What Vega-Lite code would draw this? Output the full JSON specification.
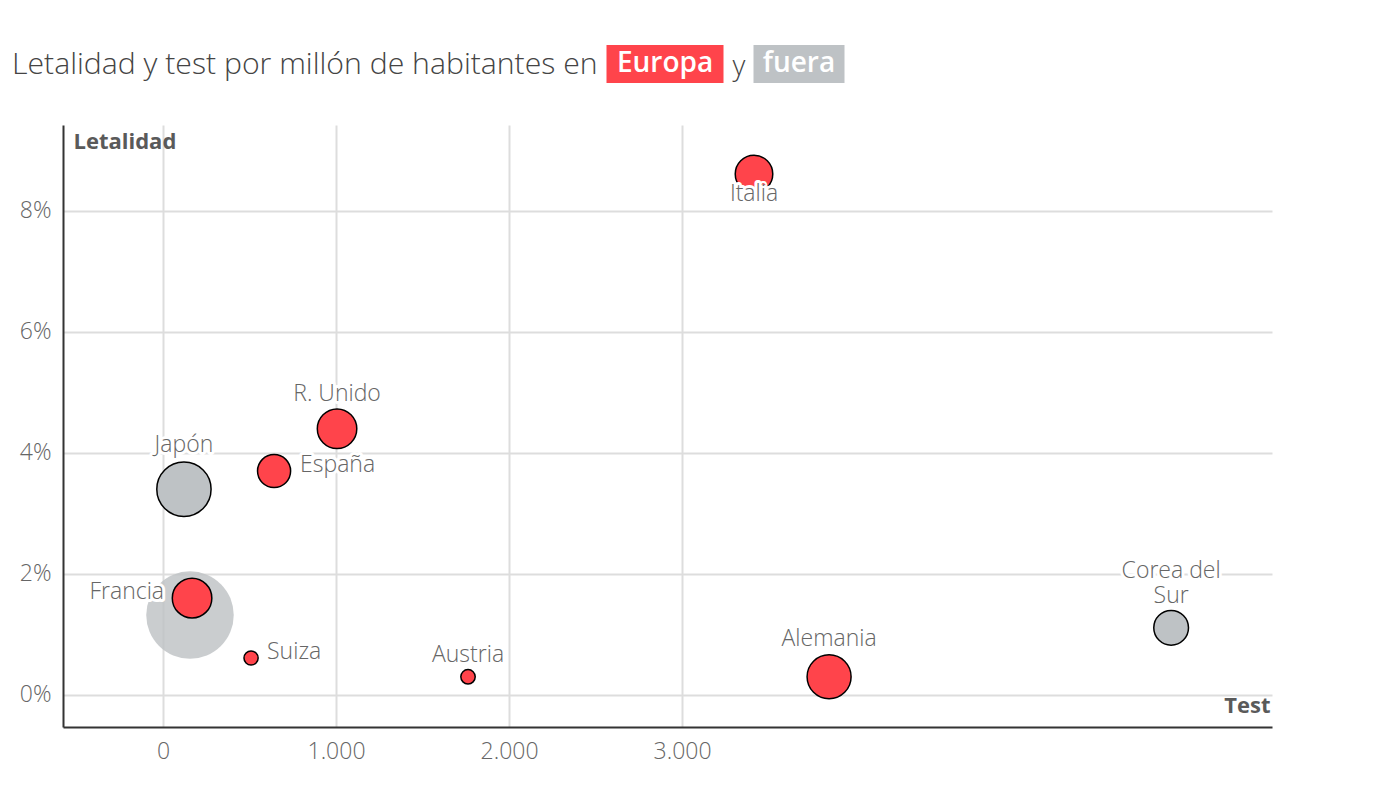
{
  "$schema": "https://vega.github.io/schema/vega-lite/v6.json",
  "autosize": "none",
  "width": 1209,
  "height": 602,
  "padding": {"left": 63, "top": 125, "right": 120, "bottom": 65},
  "background": "#ffffff",
  "title": {
    "text": "Letalidad y test por millón de habitantes en",
    "anchor": "start",
    "frame": "group",
    "dx": -51,
    "offset": -60,
    "baseline": "alphabetic",
    "font": "Open Sans",
    "fontSize": 30.2,
    "fontWeight": 300,
    "color": "#444444"
  },
  "data": {
    "values": [
      {"pais": "Estados Unidos", "region": "fuera", "test": 156, "letalidad": 1.32, "poblacion": 328.2},
      {"pais": "Japón", "region": "fuera", "test": 121, "letalidad": 3.40, "poblacion": 126.3},
      {"pais": "Corea del Sur", "region": "fuera", "test": 5827, "letalidad": 1.11, "poblacion": 51.7},
      {"pais": "Francia", "region": "Europa", "test": 168, "letalidad": 1.60, "poblacion": 67.0},
      {"pais": "España", "region": "Europa", "test": 642, "letalidad": 3.70, "poblacion": 46.9},
      {"pais": "R. Unido", "region": "Europa", "test": 1006, "letalidad": 4.40, "poblacion": 66.8},
      {"pais": "Suiza", "region": "Europa", "test": 509, "letalidad": 0.61, "poblacion": 8.6},
      {"pais": "Austria", "region": "Europa", "test": 1763, "letalidad": 0.30, "poblacion": 8.9},
      {"pais": "Alemania", "region": "Europa", "test": 3850, "letalidad": 0.30, "poblacion": 83.0},
      {"pais": "Italia", "region": "Europa", "test": 3416, "letalidad": 8.61, "poblacion": 60.4}
    ]
  },
  "encoding": {
    "x": {
      "field": "test",
      "type": "quantitative",
      "scale": {"domain": [-578, 6410], "nice": false, "zero": false},
      "axis": {
        "values": [0, 1000, 2000, 3000],
        "labelExpr": "replace(format(datum.value, ','), ',', '.')",
        "title": "Test",
        "titleX": 1207,
        "titleY": -15,
        "titleAlign": "right",
        "titleBaseline": "alphabetic",
        "labelPadding": 13
      }
    },
    "y": {
      "field": "letalidad",
      "type": "quantitative",
      "scale": {"domain": [-0.53, 9.42], "nice": false, "zero": false},
      "axis": {
        "values": [0, 2, 4, 6, 8],
        "labelExpr": "datum.value + '%'",
        "title": "Letalidad",
        "titleAngle": 0,
        "titleX": 10,
        "titleY": 23,
        "titleAlign": "left",
        "titleBaseline": "alphabetic",
        "labelPadding": 12
      }
    }
  },
  "layer": [
    {
      "mark": {"type": "circle", "stroke": "#000000"},
      "encoding": {
        "size": {
          "field": "poblacion",
          "type": "quantitative",
          "scale": {"domain": [0, 330], "range": [0, 7700]},
          "legend": null
        },
        "color": {
          "field": "region",
          "type": "nominal",
          "scale": {"domain": ["Europa", "y", "fuera"], "range": ["#ff444b", "#ffffff", "#bec2c5"]},
          "legend": {
            "orient": "none",
            "legendX": 582,
            "legendY": -81,
            "direction": "horizontal",
            "columns": 3,
            "columnPadding": -11,
            "padding": 0,
            "title": null,
            "symbolSize": 1600,
            "symbolStrokeWidth": 0,
            "labelOffset": -20,
            "labelAlign": "center",
            "labelFont": "Open Sans",
            "labelFontSize": 28,
            "labelLimit": 300,
            "encoding": {
              "symbols": {
                "shape": {"value": {"expr": "datum.value === 'Europa' ? 'M-2.925,-0.95H2.925V0.95H-2.925Z' : (datum.value === 'fuera' ? 'M-2.275,-0.95H2.275V0.95H-2.275Z' : 'M0.95,-0.05H1.0V0.05H0.95Z')"}},
                "strokeWidth": {"value": 0},
                "opacity": {"value": 1}
              },
              "labels": {
                "fill": {"value": {"expr": "datum.value === 'y' ? '#444444' : '#ffffff'"}},
                "fontWeight": {"value": {"expr": "datum.value === 'y' ? 300 : 600"}},
                "dx": {"value": {"expr": "datum.value === 'y' ? -5 : 0"}}
              }
            }
          }
        },
        "strokeWidth": {"condition": {"test": "datum.pais === 'Estados Unidos'", "value": 0}, "value": 1.5},
        "opacity": {"condition": {"test": "datum.pais === 'Estados Unidos'", "value": 0.82}, "value": 1}
      }
    },
    {
      "transform": [{"filter": "datum.pais === 'Japón'"}],
      "encoding": {"text": {"field": "pais"}},
      "layer": [
        {"mark": {"type": "text", "style": "halo", "fill": "#ffffff", "stroke": "#ffffff", "strokeWidth": 6, "align": "center", "dy": -37}},
        {"mark": {"type": "text", "style": "etiqueta", "fill": "#666666", "align": "center", "dy": -37}}
      ]
    },
    {
      "transform": [{"filter": "datum.pais === 'R. Unido'"}],
      "encoding": {"text": {"field": "pais"}},
      "layer": [
        {"mark": {"type": "text", "style": "halo", "fill": "#ffffff", "stroke": "#ffffff", "strokeWidth": 6, "align": "center", "dy": -28}},
        {"mark": {"type": "text", "style": "etiqueta", "fill": "#666666", "align": "center", "dy": -28}}
      ]
    },
    {
      "transform": [{"filter": "datum.pais === 'España'"}],
      "encoding": {"text": {"field": "pais"}},
      "layer": [
        {"mark": {"type": "text", "style": "halo", "fill": "#ffffff", "stroke": "#ffffff", "strokeWidth": 6, "align": "left", "dx": 26, "dy": 1}},
        {"mark": {"type": "text", "style": "etiqueta", "fill": "#666666", "align": "left", "dx": 26, "dy": 1}}
      ]
    },
    {
      "transform": [{"filter": "datum.pais === 'Francia'"}],
      "encoding": {"text": {"field": "pais"}},
      "layer": [
        {"mark": {"type": "text", "style": "halo", "fill": "#ffffff", "stroke": "#ffffff", "strokeWidth": 6, "align": "right", "dx": -28, "dy": 1}},
        {"mark": {"type": "text", "style": "etiqueta", "fill": "#666666", "align": "right", "dx": -28, "dy": 1}}
      ]
    },
    {
      "transform": [{"filter": "datum.pais === 'Suiza'"}],
      "encoding": {"text": {"field": "pais"}},
      "layer": [
        {"mark": {"type": "text", "style": "halo", "fill": "#ffffff", "stroke": "#ffffff", "strokeWidth": 6, "align": "left", "dx": 16, "dy": 1}},
        {"mark": {"type": "text", "style": "etiqueta", "fill": "#666666", "align": "left", "dx": 16, "dy": 1}}
      ]
    },
    {
      "transform": [{"filter": "datum.pais === 'Austria'"}],
      "encoding": {"text": {"field": "pais"}},
      "layer": [
        {"mark": {"type": "text", "style": "halo", "fill": "#ffffff", "stroke": "#ffffff", "strokeWidth": 6, "align": "center", "dy": -15}},
        {"mark": {"type": "text", "style": "etiqueta", "fill": "#666666", "align": "center", "dy": -15}}
      ]
    },
    {
      "transform": [{"filter": "datum.pais === 'Alemania'"}],
      "encoding": {"text": {"field": "pais"}},
      "layer": [
        {"mark": {"type": "text", "style": "halo", "fill": "#ffffff", "stroke": "#ffffff", "strokeWidth": 6, "align": "center", "dy": -31}},
        {"mark": {"type": "text", "style": "etiqueta", "fill": "#666666", "align": "center", "dy": -31}}
      ]
    },
    {
      "transform": [{"filter": "datum.pais === 'Italia'"}],
      "encoding": {"text": {"field": "pais"}},
      "layer": [
        {"mark": {"type": "text", "style": "halo", "fill": "#ffffff", "stroke": "#ffffff", "strokeWidth": 6, "align": "center", "dy": 27}},
        {"mark": {"type": "text", "style": "etiqueta", "fill": "#666666", "align": "center", "dy": 27}}
      ]
    },
    {
      "transform": [
        {"filter": "datum.pais === 'Corea del Sur'"},
        {"calculate": "replace(datum.pais, 'del ', 'del\\n')", "as": "etiqueta"}
      ],
      "encoding": {"text": {"field": "etiqueta"}},
      "layer": [
        {"mark": {"type": "text", "style": "halo", "fill": "#ffffff", "stroke": "#ffffff", "strokeWidth": 6, "align": "center", "dy": -50, "lineBreak": "\n", "lineHeight": 25}},
        {"mark": {"type": "text", "style": "etiqueta", "fill": "#666666", "align": "center", "dy": -50, "lineBreak": "\n", "lineHeight": 25}}
      ]
    }
  ],
  "config": {
    "view": {"stroke": null},
    "style": {
      "halo": {"font": "Open Sans", "fontSize": 23, "fontWeight": 300, "baseline": "alphabetic", "strokeJoin": "round"},
      "etiqueta": {"font": "Open Sans", "fontSize": 23, "fontWeight": 300, "baseline": "alphabetic"}
    },
    "axis": {
      "grid": true,
      "gridColor": "#dddddd",
      "gridWidth": 2,
      "domainColor": "#333333",
      "domainWidth": 2,
      "ticks": false,
      "labelFont": "Open Sans",
      "labelFontSize": 23,
      "labelFontWeight": 300,
      "labelColor": "#666666",
      "titleFont": "Open Sans",
      "titleFontSize": 22,
      "titleFontWeight": "bold",
      "titleColor": "#5a5a5a"
    }
  }
}
